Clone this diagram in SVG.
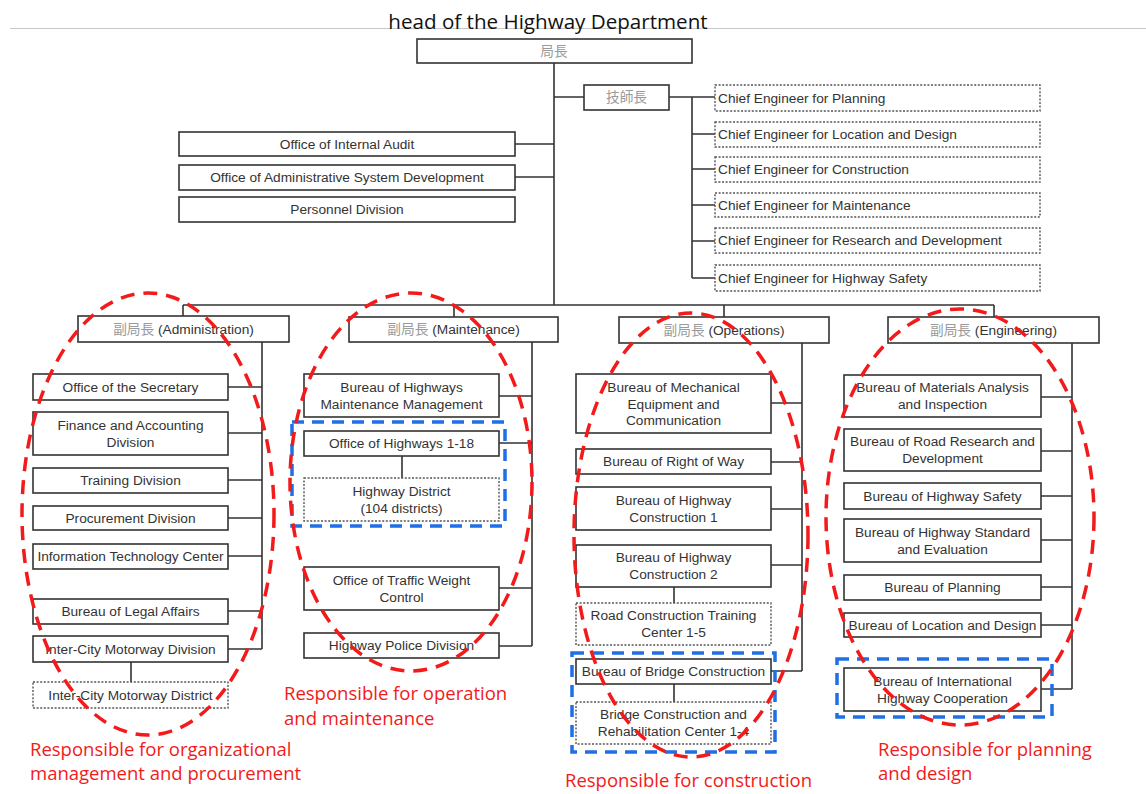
<svg xmlns="http://www.w3.org/2000/svg" width="1146" height="794" viewBox="0 0 1146 794">
  <style>
    .box { fill: #fff; stroke: #333; stroke-width: 1.6; }
    .dbox { fill: #fff; stroke: #555; stroke-width: 1.4; stroke-dasharray: 2 1.6; }
    .ln { fill: none; stroke: #333; stroke-width: 1.6; }
    .t { font-family: "Liberation Sans", Arial, sans-serif; font-size: 13.7px; fill: #333; text-anchor: middle; }
    .tl { font-family: "Liberation Sans", Arial, sans-serif; font-size: 13.7px; fill: #333; }
    .cjk { font-family: "Noto Sans CJK JP", "Noto Sans CJK TC", sans-serif; fill: #9a9a9a; }
    .ring { fill: none; stroke: #f21a1a; stroke-width: 3.5; stroke-dasharray: 14 9; }
    .grp { fill: none; stroke: #1f6fe6; stroke-width: 3.5; stroke-dasharray: 12 8; }
    .note { font-family: "Open Sans", "Noto Sans", sans-serif; font-size: 18.5px; fill: #f21a1a; }
  </style>

  <!-- header -->
  <line x1="10" y1="28.5" x2="1146" y2="28.5" stroke="#c8c8c8" stroke-width="1.2"/>
  <text x="548" y="29" font-family="Open Sans, Noto Sans, sans-serif" font-size="20.6" fill="#111" text-anchor="middle">head of the Highway Department</text>

  <!-- connectors -->
  <g id="connectors" class="ln">
    <path d="M554 63V305M183 305H994M183 305V317M454 305V317M724 305V317M994 305V317"/>
    <path d="M554 97H584M669 97H715M692 97V278M692 134H715M692 169H715M692 205H715M692 241H715M692 278H715"/>
    <path d="M515 144H554M515 177H554"/>
    <path d="M262 342V649M228 387H262M228 433H262M228 480H262M228 518H262M228 556H262M228 611H262M228 649H262M131 662V682"/>
    <path d="M532 342V646M499 396H532M499 443H532M499 588H532M499 646H532M402 456V478"/>
    <path d="M802 343V671M771 403H802M771 462H802M771 509H802M771 565H802M771 671H802M674 587V603M674 684V702"/>
    <path d="M1072 343V689M1041 397H1072M1041 451H1072M1041 496H1072M1041 540H1072M1041 587H1072M1041 625H1072M1041 689H1072"/>
  </g>

  <!-- top level -->
  <g id="director">
    <rect class="box" x="417" y="39" width="275" height="24"/>
    <text class="t cjk" x="554" y="56">局長</text>
  </g>
  <g id="chief-engineer">
    <rect class="box" x="584" y="85" width="85" height="25"/>
    <text class="t cjk" x="626.5" y="102">技師長</text>
  </g>
  <g id="ce-planning"><rect class="dbox" x="715" y="85" width="325" height="26"/><text class="tl" x="718" y="102.5">Chief Engineer for Planning</text></g>
  <g id="ce-location"><rect class="dbox" x="715" y="122" width="325" height="25"/><text class="tl" x="718" y="139">Chief Engineer for Location and Design</text></g>
  <g id="ce-construction"><rect class="dbox" x="715" y="157" width="325" height="25"/><text class="tl" x="718" y="174">Chief Engineer for Construction</text></g>
  <g id="ce-maintenance"><rect class="dbox" x="715" y="193" width="325" height="24"/><text class="tl" x="718" y="209.5">Chief Engineer for Maintenance</text></g>
  <g id="ce-research"><rect class="dbox" x="715" y="228" width="325" height="25"/><text class="tl" x="718" y="245">Chief Engineer for Research and Development</text></g>
  <g id="ce-safety"><rect class="dbox" x="715" y="265" width="325" height="26"/><text class="tl" x="718" y="282.5">Chief Engineer for Highway Safety</text></g>

  <g id="internal-audit"><rect class="box" x="179" y="132" width="336" height="24"/><text class="t" x="347" y="148.5">Office of Internal Audit</text></g>
  <g id="admin-system"><rect class="box" x="179" y="165" width="336" height="25"/><text class="t" x="347" y="182">Office of Administrative System Development</text></g>
  <g id="personnel"><rect class="box" x="179" y="197" width="336" height="25"/><text class="t" x="347" y="214">Personnel Division</text></g>

  <!-- deputy directors -->
  <g id="deputy-admin"><rect class="box" x="78" y="316" width="211" height="26"/><text class="t" x="183.5" y="333.5"><tspan class="cjk">副局長</tspan> (Administration)</text></g>
  <g id="deputy-maint"><rect class="box" x="349" y="317" width="209" height="25"/><text class="t" x="453.5" y="334"><tspan class="cjk">副局長</tspan> (Maintenance)</text></g>
  <g id="deputy-ops"><rect class="box" x="619" y="317" width="210" height="26"/><text class="t" x="724" y="334.5"><tspan class="cjk">副局長</tspan> (Operations)</text></g>
  <g id="deputy-eng"><rect class="box" x="888" y="317" width="211" height="26"/><text class="t" x="993.5" y="334.5"><tspan class="cjk">副局長</tspan> (Engineering)</text></g>

  <!-- administration column -->
  <g id="secretary"><rect class="box" x="33" y="374" width="195" height="26"/><text class="t" x="130.5" y="391.5">Office of the Secretary</text></g>
  <g id="finance"><rect class="box" x="33" y="412" width="195" height="43"/><text class="t" x="130.5" y="429.5">Finance and Accounting<tspan x="130.5" y="446.5">Division</tspan></text></g>
  <g id="training"><rect class="box" x="33" y="468" width="195" height="25"/><text class="t" x="130.5" y="485">Training Division</text></g>
  <g id="procurement"><rect class="box" x="33" y="506" width="195" height="24"/><text class="t" x="130.5" y="522.5">Procurement Division</text></g>
  <g id="it-center"><rect class="box" x="33" y="544" width="195" height="25"/><text class="t" x="130.5" y="561">Information Technology Center</text></g>
  <g id="legal"><rect class="box" x="33" y="599" width="195" height="25"/><text class="t" x="130.5" y="616">Bureau of Legal Affairs</text></g>
  <g id="motorway-division"><rect class="box" x="33" y="636" width="195" height="26"/><text class="t" x="130.5" y="653.5">Inter-City Motorway Division</text></g>
  <g id="motorway-district"><rect class="dbox" x="33" y="682" width="195" height="26"/><text class="t" x="130.5" y="699.5">Inter-City Motorway District</text></g>

  <!-- maintenance column -->
  <g id="maint-management"><rect class="box" x="304" y="374" width="195" height="43"/><text class="t" x="401.5" y="391.5">Bureau of Highways<tspan x="401.5" y="408.5">Maintenance Management</tspan></text></g>
  <g id="office-highways"><rect class="box" x="304" y="431" width="195" height="25"/><text class="t" x="401.5" y="448">Office of Highways 1-18</text></g>
  <g id="highway-district"><rect class="dbox" x="304" y="478" width="195" height="43"/><text class="t" x="401.5" y="495.5">Highway District<tspan x="401.5" y="512.5">(104 districts)</tspan></text></g>
  <g id="traffic-weight"><rect class="box" x="304" y="567" width="195" height="43"/><text class="t" x="401.5" y="584.5">Office of Traffic Weight<tspan x="401.5" y="601.5">Control</tspan></text></g>
  <g id="police"><rect class="box" x="304" y="633" width="195" height="25"/><text class="t" x="401.5" y="650">Highway Police Division</text></g>

  <!-- operations column -->
  <g id="mechanical"><rect class="box" x="576" y="374" width="195" height="59"/><text class="t" x="673.5" y="392">Bureau of Mechanical<tspan x="673.5" y="408.5">Equipment and</tspan><tspan x="673.5" y="425">Communication</tspan></text></g>
  <g id="right-of-way"><rect class="box" x="576" y="449" width="195" height="25"/><text class="t" x="673.5" y="466">Bureau of Right of Way</text></g>
  <g id="construction-1"><rect class="box" x="576" y="487" width="195" height="43"/><text class="t" x="673.5" y="504.5">Bureau of Highway<tspan x="673.5" y="521.5">Construction 1</tspan></text></g>
  <g id="construction-2"><rect class="box" x="576" y="545" width="195" height="42"/><text class="t" x="673.5" y="562">Bureau of Highway<tspan x="673.5" y="579">Construction 2</tspan></text></g>
  <g id="training-center"><rect class="dbox" x="576" y="603" width="195" height="42"/><text class="t" x="673.5" y="620">Road Construction Training<tspan x="673.5" y="637">Center  1-5</tspan></text></g>
  <g id="bridge"><rect class="box" x="576" y="659" width="195" height="25"/><text class="t" x="673.5" y="676">Bureau of Bridge Construction</text></g>
  <g id="bridge-center"><rect class="dbox" x="576" y="702" width="195" height="42"/><text class="t" x="673.5" y="719">Bridge Construction and<tspan x="673.5" y="736">Rehabilitation Center 1-4</tspan></text></g>

  <!-- engineering column -->
  <g id="materials"><rect class="box" x="844" y="375" width="197" height="42"/><text class="t" x="942.5" y="392">Bureau of Materials Analysis<tspan x="942.5" y="409">and Inspection</tspan></text></g>
  <g id="road-research"><rect class="box" x="844" y="429" width="197" height="42"/><text class="t" x="942.5" y="446">Bureau of Road Research and<tspan x="942.5" y="463">Development</tspan></text></g>
  <g id="highway-safety"><rect class="box" x="844" y="483" width="197" height="26"/><text class="t" x="942.5" y="500.5">Bureau of Highway Safety</text></g>
  <g id="standard"><rect class="box" x="844" y="519" width="197" height="43"/><text class="t" x="942.5" y="536.5">Bureau of Highway Standard<tspan x="942.5" y="553.5">and Evaluation</tspan></text></g>
  <g id="planning"><rect class="box" x="844" y="575" width="197" height="25"/><text class="t" x="942.5" y="592">Bureau of Planning</text></g>
  <g id="location-design"><rect class="box" x="844" y="613" width="197" height="24"/><text class="t" x="942.5" y="629.5">Bureau of Location and Design</text></g>
  <g id="international"><rect class="box" x="844" y="668" width="197" height="43"/><text class="t" x="942.5" y="685.5">Bureau of International<tspan x="942.5" y="702.5">Highway Cooperation</tspan></text></g>

  <!-- highlight groupings -->
  <g id="groupings">
    <rect class="grp" x="292" y="422" width="213" height="104"/>
    <rect class="grp" x="572" y="653" width="203" height="99"/>
    <rect class="grp" x="837" y="659" width="215" height="58"/>
    <ellipse class="ring" cx="148" cy="514" rx="126" ry="221"/>
    <ellipse class="ring" cx="411" cy="482" rx="121" ry="189"/>
    <ellipse class="ring" cx="691" cy="535" rx="117" ry="222"/>
    <ellipse class="ring" cx="960" cy="517" rx="134" ry="208"/>
  </g>

  <!-- responsibility notes -->
  <g id="notes">
    <text class="note" x="30" y="756">Responsible for organizational<tspan x="30" y="780">management and procurement</tspan></text>
    <text class="note" x="284" y="700">Responsible for operation<tspan x="284" y="725">and maintenance</tspan></text>
    <text class="note" x="565" y="787">Responsible for construction</text>
    <text class="note" x="878" y="756">Responsible for planning<tspan x="878" y="780">and design</tspan></text>
  </g>
</svg>
